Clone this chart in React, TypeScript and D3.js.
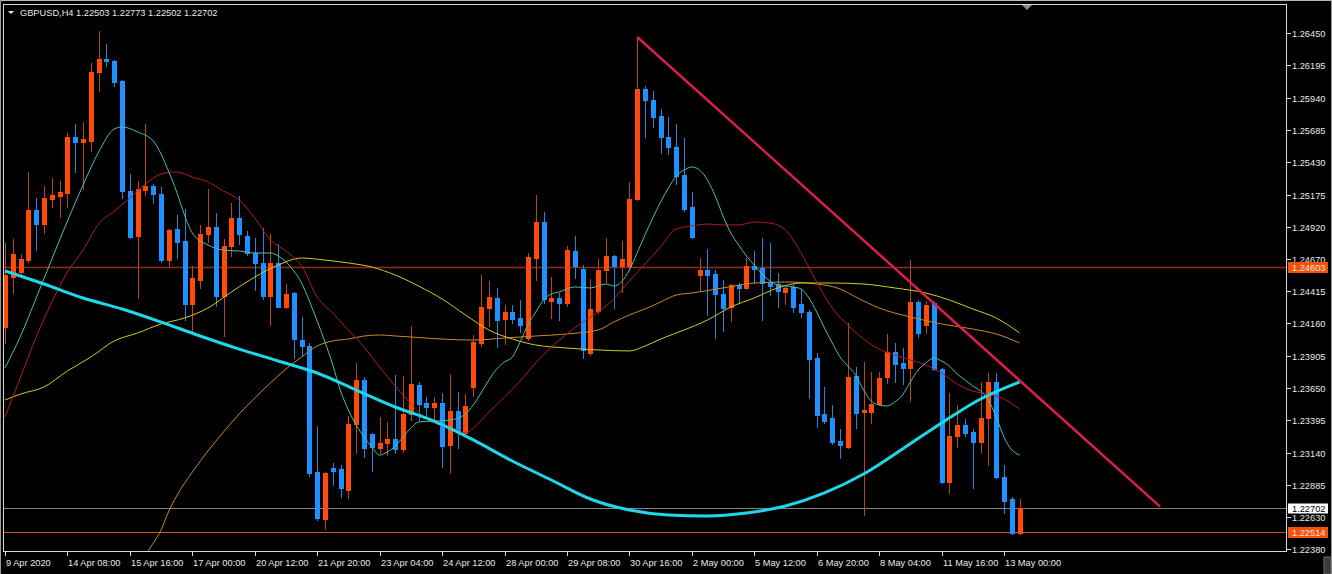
import React from 'react';
import * as d3 from 'd3';

// ---------- data ----------
const SYMBOL = 'GBPUSD,H4';
const LAST_OHLC = [1.22503, 1.22773, 1.22502, 1.22702];

const OPEN = [
  1.24131, 1.24525, 1.24565, 1.24659, 1.25054, 1.24943, 1.25141, 1.25164, 1.25188, 1.25630,
  1.25590, 1.25598, 1.26142, 1.26245, 1.26229, 1.26071, 1.25204, 1.24849, 1.25212, 1.25243,
  1.25180, 1.24659, 1.24904, 1.24809, 1.24312, 1.24502, 1.24865, 1.24920, 1.24376, 1.24770,
  1.24991, 1.24849, 1.24715, 1.24636, 1.24376, 1.24636, 1.24289, 1.24399, 1.24028, 1.23981,
  1.22987, 1.22616, 1.23019, 1.23011, 1.22845, 1.23366, 1.23713, 1.23287, 1.23177, 1.23216,
  1.23248, 1.23169, 1.23445, 1.23673, 1.23531, 1.23500, 1.23531, 1.23200, 1.23468, 1.23295,
  1.23658, 1.24005, 1.24281, 1.24360, 1.24194, 1.24249, 1.24202, 1.24044, 1.24675, 1.24959,
  1.24336, 1.24360, 1.24320, 1.24730, 1.24588, 1.23926, 1.24257, 1.24581, 1.24691, 1.24612,
  1.24612, 1.25141, 1.26008, 1.25922, 1.25795, 1.25630, 1.25551, 1.25330, 1.25078, 1.24541,
  1.24581, 1.24549, 1.24391, 1.24289, 1.24462, 1.24439, 1.24612, 1.24596, 1.24486, 1.24470,
  1.24407, 1.24447, 1.24312, 1.24249, 1.23886, 1.23445, 1.23413, 1.23232, 1.23184, 1.23744,
  1.23460, 1.23460, 1.23524, 1.23737, 1.23934, 1.23847, 1.23808, 1.24328, 1.24147, 1.24320,
  1.23800, 1.22908, 1.23271, 1.23358, 1.23303, 1.23224, 1.23413, 1.23697, 1.22948, 1.22774,
  1.22503,
];
const HIGH = [
  1.24794, 1.24825, 1.24707, 1.25354, 1.25149, 1.25243, 1.25306, 1.25283, 1.25661, 1.25732,
  1.25748, 1.26213, 1.26466, 1.26363, 1.26237, 1.26079, 1.25338, 1.25283, 1.25732, 1.25259,
  1.25235, 1.24904, 1.25014, 1.25062, 1.24612, 1.24936, 1.25220, 1.25030, 1.24825, 1.25109,
  1.25164, 1.24888, 1.24833, 1.24912, 1.24865, 1.24786, 1.24470, 1.24407, 1.24210, 1.24005,
  1.23350, 1.22987, 1.23058, 1.23042, 1.23429, 1.23847, 1.23737, 1.23295, 1.23421, 1.23382,
  1.23752, 1.23744, 1.24139, 1.23697, 1.23579, 1.23579, 1.23610, 1.23760, 1.23618, 1.23602,
  1.24068, 1.24541, 1.24494, 1.24439, 1.24305, 1.24305, 1.24344, 1.24715, 1.25172, 1.25038,
  1.24525, 1.24399, 1.24770, 1.24849, 1.24620, 1.24510, 1.24667, 1.24833, 1.24699, 1.24809,
  1.25275, 1.26419, 1.26032, 1.25993, 1.25851, 1.25787, 1.25732, 1.25622, 1.25196, 1.24675,
  1.24746, 1.24581, 1.24502, 1.24470, 1.24478, 1.24675, 1.24730, 1.24833, 1.24794, 1.24557,
  1.24447, 1.24470, 1.24431, 1.24265, 1.23926, 1.23658, 1.23516, 1.23326, 1.24162, 1.23815,
  1.23855, 1.23776, 1.23776, 1.24076, 1.24005, 1.23965, 1.24659, 1.24344, 1.24336, 1.24336,
  1.23808, 1.23610, 1.23516, 1.23405, 1.23326, 1.23697, 1.23768, 1.23768, 1.23042, 1.22790,
  1.22773,
];
const LOW = [
  1.24005, 1.24399, 1.24541, 1.24644, 1.24738, 1.24872, 1.25078, 1.24999, 1.25078, 1.25354,
  1.25220, 1.25519, 1.25993, 1.26190, 1.26032, 1.25149, 1.24833, 1.24360, 1.25172, 1.25109,
  1.24644, 1.24604, 1.24675, 1.24186, 1.24084, 1.24439, 1.24801, 1.24297, 1.24060, 1.24691,
  1.24786, 1.24699, 1.24423, 1.24352, 1.24147, 1.24285, 1.24281, 1.23886, 1.23910, 1.22956,
  1.22609, 1.22538, 1.22885, 1.22790, 1.22782, 1.23137, 1.23106, 1.22995, 1.23137, 1.23121,
  1.23137, 1.23145, 1.23397, 1.23397, 1.23421, 1.23397, 1.23027, 1.22979, 1.23177, 1.23279,
  1.23587, 1.23981, 1.24139, 1.23973, 1.23997, 1.24162, 1.24092, 1.24028, 1.24502, 1.24320,
  1.24202, 1.24186, 1.24297, 1.24517, 1.23886, 1.23910, 1.24241, 1.24486, 1.24281, 1.24407,
  1.24581, 1.25133, 1.25630, 1.25709, 1.25503, 1.25496, 1.25259, 1.25046, 1.24833, 1.24415,
  1.24226, 1.24044, 1.24099, 1.24178, 1.24328, 1.24431, 1.24478, 1.24186, 1.24383, 1.24289,
  1.24312, 1.24249, 1.24210, 1.23571, 1.23342, 1.23374, 1.23208, 1.23098, 1.23177, 1.23334,
  1.22648, 1.23374, 1.23516, 1.23689, 1.23697, 1.23681, 1.23547, 1.24052, 1.24084, 1.23792,
  1.22900, 1.22822, 1.23184, 1.23271, 1.22861, 1.23145, 1.23042, 1.22940, 1.22664, 1.22500,
  1.22502,
];
const CLOSE = [
  1.24541, 1.24707, 1.24667, 1.25054, 1.24943, 1.25149, 1.25172, 1.25196, 1.25630, 1.25590,
  1.25614, 1.26142, 1.26245, 1.26229, 1.26064, 1.25204, 1.24841, 1.25220, 1.25243, 1.25180,
  1.24659, 1.24896, 1.24801, 1.24312, 1.24517, 1.24865, 1.24920, 1.24376, 1.24770, 1.24991,
  1.24865, 1.24715, 1.24636, 1.24376, 1.24636, 1.24289, 1.24391, 1.24036, 1.23981, 1.22979,
  1.22624, 1.22979, 1.22995, 1.22861, 1.23366, 1.23713, 1.23177, 1.23184, 1.23216, 1.23248,
  1.23169, 1.23445, 1.23681, 1.23524, 1.23500, 1.23531, 1.23192, 1.23468, 1.23311, 1.23508,
  1.24013, 1.24289, 1.24368, 1.24186, 1.24249, 1.24194, 1.24147, 1.24683, 1.24959, 1.24352,
  1.24360, 1.24320, 1.24738, 1.24612, 1.23950, 1.24273, 1.24581, 1.24691, 1.24612, 1.24667,
  1.25141, 1.26008, 1.25922, 1.25787, 1.25630, 1.25551, 1.25322, 1.25062, 1.24841, 1.24581,
  1.24541, 1.24391, 1.24281, 1.24462, 1.24439, 1.24612, 1.24588, 1.24478, 1.24454, 1.24415,
  1.24439, 1.24289, 1.24249, 1.23879, 1.23437, 1.23389, 1.23224, 1.23200, 1.23737, 1.23453,
  1.23476, 1.23524, 1.23729, 1.23934, 1.23839, 1.23808, 1.24328, 1.24084, 1.24305, 1.23800,
  1.22908, 1.23271, 1.23358, 1.23295, 1.23224, 1.23413, 1.23697, 1.22948, 1.22758, 1.22505,
  1.22702,
];

// moving averages: [bar index, price]
const MA_FAST = [
  [0, 1.23808], [2, 1.24060], [4, 1.24360], [6, 1.24667], [8, 1.24967], [10, 1.25251], [12, 1.25511],
  [14, 1.25693], [15, 1.25709], [17, 1.25669], [19, 1.25598], [21, 1.25354], [22, 1.25196], [23, 1.25014],
  [24, 1.24872], [26, 1.24778], [28, 1.24738], [30, 1.24730], [32, 1.24715], [34, 1.24715], [35, 1.24691],
  [36, 1.24644], [37, 1.24573], [38, 1.24478], [39, 1.24336], [40, 1.24178], [41, 1.24013], [42, 1.23831],
  [43, 1.23626], [44, 1.23476], [45, 1.23358], [46, 1.23263], [47, 1.23184], [48, 1.23121], [49, 1.23145],
  [50, 1.23192], [51, 1.23263], [52, 1.23334], [53, 1.23382], [55, 1.23389], [57, 1.23397], [59, 1.23445],
  [60, 1.23516], [61, 1.23610], [62, 1.23713], [63, 1.23800], [64, 1.23855], [65, 1.23894], [66, 1.24013],
  [67, 1.24147], [68, 1.24249], [69, 1.24344], [70, 1.24391], [71, 1.24407], [73, 1.24447], [75, 1.24439],
  [77, 1.24470], [78, 1.24454], [79, 1.24486], [80, 1.24581], [81, 1.24715], [82, 1.24857], [83, 1.24991],
  [84, 1.25117], [85, 1.25227], [86, 1.25322], [87, 1.25369], [88, 1.25393], [89, 1.25369], [90, 1.25291],
  [91, 1.25164], [92, 1.25007], [93, 1.24872], [94, 1.24778], [95, 1.24691], [96, 1.24620], [97, 1.24549],
  [98, 1.24494], [99, 1.24462], [101, 1.24447], [102, 1.24431], [103, 1.24360], [104, 1.24249], [105, 1.24123],
  [106, 1.24005], [107, 1.23894], [108, 1.23823], [109, 1.23752], [110, 1.23634], [111, 1.23547], [112, 1.23516],
  [113, 1.23508], [114, 1.23539], [115, 1.23595], [116, 1.23697], [117, 1.23792], [118, 1.23847], [119, 1.23886],
  [120, 1.23863], [121, 1.23823], [122, 1.23760], [123, 1.23713], [124, 1.23666], [125, 1.23626], [126, 1.23555],
  [127, 1.23421], [128, 1.23263], [129, 1.23161], [130, 1.23121],
];
const MA_MID = [
  [0, 1.23421], [2, 1.23737], [4, 1.24052], [6, 1.24328], [8, 1.24565], [10, 1.24738], [12, 1.24943],
  [14, 1.25046], [16, 1.25149], [18, 1.25259], [20, 1.25338], [22, 1.25354], [24, 1.25314], [26, 1.25275],
  [28, 1.25204], [30, 1.25133], [32, 1.24991], [34, 1.24817], [36, 1.24730], [38, 1.24612], [40, 1.24368],
  [42, 1.24241], [44, 1.24107], [46, 1.23973], [48, 1.23815], [50, 1.23666], [52, 1.23524], [54, 1.23405],
  [56, 1.23350], [58, 1.23319], [59, 1.23295], [60, 1.23334], [62, 1.23460], [64, 1.23579], [66, 1.23705],
  [68, 1.23847], [70, 1.23973], [72, 1.24076], [74, 1.24170], [76, 1.24249], [78, 1.24352], [80, 1.24494],
  [82, 1.24628], [84, 1.24762], [86, 1.24904], [88, 1.24928], [90, 1.24943], [92, 1.24936], [94, 1.24936],
  [96, 1.24959], [98, 1.24951], [100, 1.24896], [102, 1.24715], [104, 1.24486], [106, 1.24281], [108, 1.24147],
  [110, 1.24036], [112, 1.23957], [114, 1.23910], [116, 1.23871], [118, 1.23831], [120, 1.23768], [122, 1.23681],
  [124, 1.23626], [126, 1.23602], [128, 1.23563], [130, 1.23484],
];
const MA_SLOW = [
  [0, 1.23555], [2, 1.23602], [5, 1.23658], [8, 1.23784], [11, 1.23894], [14, 1.24021], [17, 1.24084],
  [20, 1.24155], [23, 1.24202], [26, 1.24281], [29, 1.24407], [32, 1.24525], [35, 1.24620], [38, 1.24675],
  [41, 1.24659], [44, 1.24636], [47, 1.24604], [50, 1.24541], [53, 1.24454], [56, 1.24352], [59, 1.24226],
  [62, 1.24107], [65, 1.24036], [68, 1.23989], [72, 1.23965], [76, 1.23950], [80, 1.23942], [82, 1.23981],
  [84, 1.24036], [87, 1.24107], [90, 1.24186], [93, 1.24289], [96, 1.24360], [99, 1.24439], [102, 1.24478],
  [106, 1.24478], [110, 1.24470], [114, 1.24439], [118, 1.24399], [121, 1.24344], [124, 1.24273], [127, 1.24202],
  [130, 1.24084],
];
const MA_SLOWER = [
  [17, 1.22238], [18, 1.22333], [19, 1.22427], [20, 1.22530], [21, 1.22680], [22, 1.22798], [24, 1.22987],
  [26, 1.23153], [28, 1.23303], [30, 1.23445], [32, 1.23571], [34, 1.23689], [36, 1.23800], [38, 1.23894],
  [40, 1.23981], [42, 1.24021], [44, 1.24036], [46, 1.24060], [48, 1.24068], [50, 1.24060], [52, 1.24052],
  [56, 1.24036], [60, 1.24028], [64, 1.24044], [68, 1.24060], [72, 1.24076], [76, 1.24107], [78, 1.24170],
  [80, 1.24226], [82, 1.24273], [84, 1.24328], [86, 1.24383], [88, 1.24399], [92, 1.24439], [96, 1.24478],
  [100, 1.24486], [104, 1.24470], [107, 1.24431], [109, 1.24368], [112, 1.24281], [116, 1.24210], [120, 1.24155],
  [124, 1.24115], [127, 1.24076], [130, 1.24005],
];
const MA_LONG = [
  [0, 1.24573], [5, 1.24470], [10, 1.24360], [15, 1.24273], [20, 1.24170], [25, 1.24060], [30, 1.23957],
  [35, 1.23863], [40, 1.23768], [45, 1.23634], [50, 1.23500], [55, 1.23389], [60, 1.23240], [65, 1.23074],
  [70, 1.22924], [75, 1.22774], [80, 1.22687], [85, 1.22648], [90, 1.22640], [95, 1.22664], [100, 1.22719],
  [105, 1.22822], [110, 1.22971], [115, 1.23169], [120, 1.23374], [125, 1.23563], [130, 1.23697],
];

const TREND = [[81, 1.26419], [148, 1.22714]];
const LEVELS = [1.24603, 1.22514];
const BID = 1.22702;

const PRICE_TICKS = [
  1.26450, 1.26195, 1.25940, 1.25685, 1.25430, 1.25175, 1.24920, 1.24670, 1.24415,
  1.24160, 1.23905, 1.23650, 1.23395, 1.23140, 1.22885, 1.22630, 1.22380,
];
const TIME_TICK_IDX = [0, 8, 16, 24, 32, 40, 48, 56, 64, 72, 80, 88, 96, 104, 112, 120, 128];
const TIME_TICK_LABELS = [
  '9 Apr 2020', '14 Apr 08:00', '15 Apr 16:00', '17 Apr 00:00', '20 Apr 12:00', '21 Apr 20:00',
  '23 Apr 04:00', '24 Apr 12:00', '28 Apr 00:00', '29 Apr 08:00', '30 Apr 16:00', '2 May 00:00',
  '5 May 12:00', '6 May 20:00', '8 May 04:00', '11 May 16:00', '13 May 00:00',
];

// ---------- layout ----------
const W = 1332;
const H = 574;
const PL = 3, PT = 4, PR = 1286, PB = 551;
const FONT = '"Liberation Sans", Arial, sans-serif';
const FS = 9.25;

const x = d3.scaleLinear().domain([0, 128]).range([5, 1004]);
const y = d3.scaleLinear().domain([1.22364, 1.26671]).range([551, 5]);

const lineGen = d3
  .line<number[]>()
  .x((d) => x(d[0]))
  .y((d) => y(d[1]))
  .curve(d3.curveMonotoneX);
const straight = d3
  .line<number[]>()
  .x((d) => x(d[0]))
  .y((d) => y(d[1]));

const BULL = '#FF4A0A';
const BEAR = '#1E90FF';
const BULL_WICK = '#B9461C';
const BEAR_WICK = '#2C82D8';

export default function App() {
  const candles = OPEN.map((o, i) => {
    const c = CLOSE[i];
    const bull = c >= o;
    const cx = Math.round(x(i));
    const yTop = Math.round(y(Math.max(o, c)));
    const yBot = Math.round(y(Math.min(o, c)));
    return (
      <g key={i}>
        <line
          x1={cx + 0.5}
          x2={cx + 0.5}
          y1={Math.round(y(HIGH[i]))}
          y2={Math.round(y(LOW[i])) + 1}
          stroke={bull ? BULL_WICK : BEAR_WICK}
          strokeWidth={1}
        />
        <rect
          x={cx - 2}
          y={yTop}
          width={5}
          height={Math.max(1, yBot - yTop + 1)}
          fill={bull ? BULL : BEAR}
        />
      </g>
    );
  });

  return (
    <svg
      width={W}
      height={H}
      style={{ position: 'absolute', left: 0, top: 0, background: '#000' }}
      fontFamily={FONT}
    >
      <defs>
        <clipPath id="plotClip">
          <rect x={PL + 1} y={PT + 1} width={PR - PL - 1} height={PB - PT - 1} />
        </clipPath>
      </defs>
      <rect x={0} y={0} width={W} height={H} fill="#000" />
      {/* window border */}
      <line x1={0} x2={W} y1={0.5} y2={0.5} stroke="#B8B8B8" />
      <line x1={0.5} x2={0.5} y1={0} y2={H} stroke="#9A9A9A" />
      <line x1={W - 0.5} x2={W - 0.5} y1={0} y2={H} stroke="#9A9A9A" />

      <g clipPath="url(#plotClip)">
        {/* horizontal levels */}
        <line x1={PL} x2={PR} y1={Math.round(y(LEVELS[0])) + 0.5} y2={Math.round(y(LEVELS[0])) + 0.5} stroke="#8E2E14" strokeWidth={1.3} />
        <line x1={PL} x2={PR} y1={Math.round(y(LEVELS[1])) + 0.5} y2={Math.round(y(LEVELS[1])) + 0.5} stroke="#D0501C" />
        <line x1={PL} x2={PR} y1={Math.round(y(BID)) + 0.5} y2={Math.round(y(BID)) + 0.5} stroke="#808080" />

        {candles}

        <path d={lineGen(MA_SLOWER) || ''} fill="none" stroke="#C8882C" strokeWidth={1} />
        <path d={lineGen(MA_SLOW) || ''} fill="none" stroke="#D2CB26" strokeWidth={1} />
        <path d={lineGen(MA_MID) || ''} fill="none" stroke="#B21E1E" strokeWidth={1} />
        <path d={lineGen(MA_FAST) || ''} fill="none" stroke="#4CBFAE" strokeWidth={1} />
        <path d={lineGen(MA_LONG) || ''} fill="none" stroke="#1ED8EA" strokeWidth={3} />

        <path d={straight(TREND) || ''} fill="none" stroke="#DC1E4E" strokeWidth={2.5} />
      </g>

      {/* plot frame */}
      <rect x={PL + 0.5} y={PT + 0.5} width={PR - PL} height={PB - PT} fill="none" stroke="#D8D8D8" />

      {/* chart shift marker */}
      <path d="M1022,5 L1032,5 L1027,10 Z" fill="#8C8C8C" />

      {/* title */}
      <path d="M8,11 L14,11 L11,14 Z" fill="#E8E8E8" />
      <text x={20} y={15.5} fontSize={FS} fill="#E8E8E8">
        {`${SYMBOL}  ${LAST_OHLC.map((v) => v.toFixed(5)).join(' ')}`}
      </text>

      {/* price axis */}
      {PRICE_TICKS.map((p) => {
        const yy = Math.round(y(p)) + 0.5;
        return (
          <g key={p}>
            <line x1={PR + 1} x2={PR + 5} y1={yy} y2={yy} stroke="#D8D8D8" />
            <text x={1292} y={yy + 3} fontSize={FS} fill="#E8E8E8">
              {p.toFixed(5)}
            </text>
          </g>
        );
      })}

      {/* level labels */}
      {LEVELS.map((p) => {
        const yy = Math.round(y(p)) + 0.5;
        return (
          <g key={'lv' + p}>
            <rect x={1288} y={yy - 5.5} width={40} height={11} fill="#F5500C" />
            <text x={1292} y={yy + 3} fontSize={FS} fill="#FFE6DA">
              {p.toFixed(5)}
            </text>
          </g>
        );
      })}
      {(() => {
        const yy = Math.round(y(BID)) + 0.5;
        return (
          <g>
            <rect x={1288} y={yy - 5} width={40} height={10} fill="#FFFFFF" />
            <text x={1292} y={yy + 3} fontSize={FS} fill="#000000">
              {BID.toFixed(5)}
            </text>
          </g>
        );
      })()}

      {/* time axis */}
      {TIME_TICK_IDX.map((idx, k) => {
        const xx = Math.round(x(idx)) + 0.5;
        return (
          <g key={'t' + idx}>
            <line x1={xx} x2={xx} y1={PB + 1} y2={PB + 5} stroke="#D8D8D8" />
            <text x={xx + 0.5} y={566} fontSize={FS} fill="#E8E8E8">
              {TIME_TICK_LABELS[k]}
            </text>
          </g>
        );
      })}

      {/* scrollbar stub */}
      <rect x={1324} y={557} width={7} height={17} fill="#3A3A3A" stroke="#6A6A6A" />
    </svg>
  );
}
